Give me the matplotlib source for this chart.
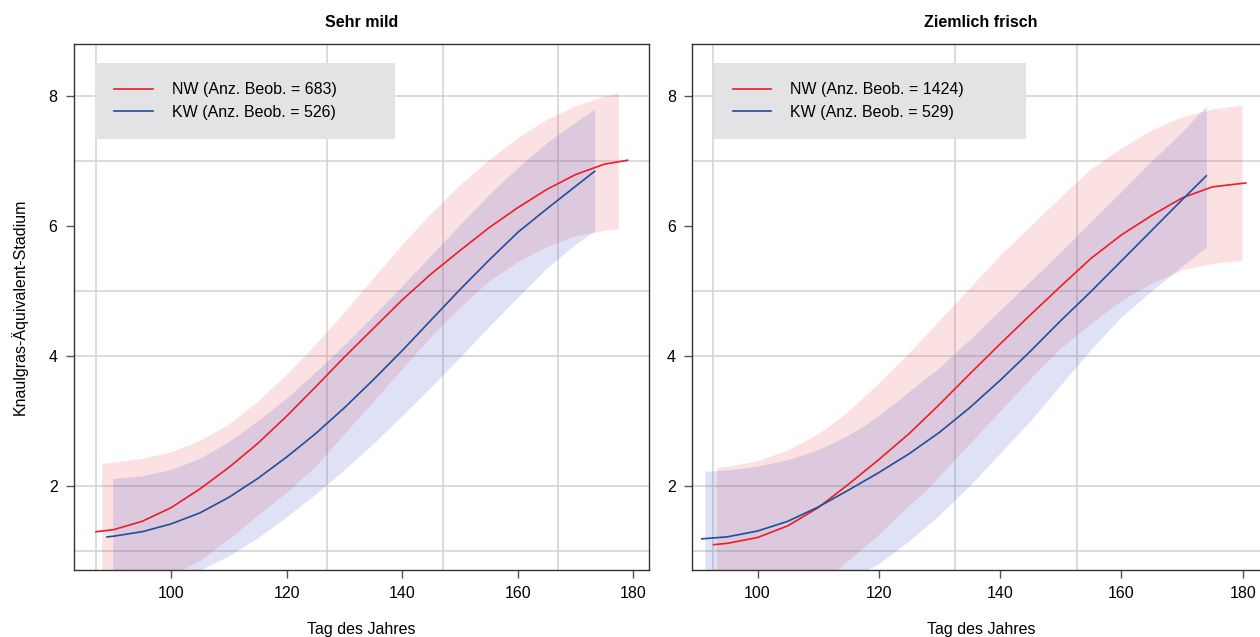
import matplotlib
matplotlib.use("Agg")
import matplotlib.pyplot as plt

plt.rcParams['font.family'] = ['Liberation Sans Narrow', 'Liberation Sans', 'DejaVu Sans']

# ---- Sehr mild ----
mild_nw_day = [87, 90, 95, 100, 105, 110, 115, 120, 125, 130, 135, 140, 145, 150, 155, 160, 165, 170, 175, 179]
mild_nw_val = [1.29, 1.32, 1.45, 1.66, 1.95, 2.28, 2.65, 3.07, 3.52, 3.98, 4.42, 4.86, 5.26, 5.62, 5.97, 6.28, 6.56, 6.79, 6.95, 7.01]
mild_nw_band_day = [88, 90, 95, 100, 105, 110, 115, 120, 125, 130, 135, 140, 145, 150, 155, 160, 165, 170, 175, 177.4]
mild_nw_upper = [2.34, 2.36, 2.42, 2.52, 2.70, 2.95, 3.30, 3.72, 4.18, 4.68, 5.20, 5.72, 6.20, 6.64, 7.02, 7.36, 7.64, 7.85, 8.00, 8.05]
mild_nw_lower = [0.26, 0.32, 0.45, 0.62, 0.85, 1.18, 1.55, 1.90, 2.30, 2.80, 3.30, 3.80, 4.30, 4.75, 5.15, 5.45, 5.68, 5.85, 5.93, 5.96]

mild_kw_day = [88.9, 90, 95, 100, 105, 110, 115, 120, 125, 130, 135, 140, 145, 150, 155, 160, 165, 170, 173.3]
mild_kw_val = [1.21, 1.22, 1.29, 1.41, 1.58, 1.82, 2.11, 2.44, 2.80, 3.20, 3.63, 4.08, 4.55, 5.02, 5.47, 5.90, 6.26, 6.61, 6.84]
mild_kw_band_day = [89.9, 95, 100, 105, 110, 115, 120, 125, 130, 135, 140, 145, 150, 155, 160, 165, 170, 173.3]
mild_kw_upper = [2.11, 2.15, 2.25, 2.42, 2.68, 3.00, 3.35, 3.75, 4.17, 4.62, 5.08, 5.55, 6.02, 6.48, 6.90, 7.28, 7.60, 7.80]
mild_kw_lower = [0.30, 0.40, 0.50, 0.70, 0.92, 1.20, 1.52, 1.87, 2.25, 2.65, 3.08, 3.52, 3.98, 4.45, 4.90, 5.35, 5.72, 5.92]

# ---- Ziemlich frisch ----
frisch_nw_day = [92.75, 95, 100, 105, 110, 115, 120, 125, 130, 135, 140, 145, 150, 155, 160, 165, 170, 175, 180.5]
frisch_nw_val = [1.09, 1.11, 1.20, 1.38, 1.66, 2.02, 2.40, 2.80, 3.25, 3.72, 4.18, 4.63, 5.07, 5.50, 5.86, 6.16, 6.43, 6.60, 6.66]
frisch_nw_band_day = [93.2, 95, 100, 105, 110, 113, 115, 120, 125, 128.3, 130, 135, 140, 145, 150, 155, 160, 165, 170, 175, 179.9]
frisch_nw_upper = [2.28, 2.30, 2.38, 2.55, 2.80, 3.00, 3.15, 3.58, 4.05, 4.38, 4.55, 5.05, 5.55, 6.00, 6.45, 6.88, 7.20, 7.48, 7.68, 7.80, 7.86]
frisch_nw_lower = [-0.30, -0.25, -0.05, 0.20, 0.50, 0.70, 0.85, 1.25, 1.70, 1.97, 2.15, 2.65, 3.15, 3.65, 4.12, 4.50, 4.85, 5.12, 5.32, 5.42, 5.47]

frisch_kw_day = [90.8, 95, 100, 105, 110, 115, 120, 125, 130, 135, 140, 145, 150, 155, 160, 165, 170, 174]
frisch_kw_val = [1.18, 1.21, 1.30, 1.45, 1.67, 1.93, 2.20, 2.49, 2.82, 3.20, 3.62, 4.07, 4.54, 4.99, 5.46, 5.93, 6.40, 6.77]
frisch_kw_band_day = [91.3, 95, 100, 105, 110, 115, 118, 120, 125, 130, 135, 140, 145, 150, 155, 160, 165, 170, 174]
frisch_kw_upper = [2.22, 2.24, 2.30, 2.40, 2.55, 2.78, 2.95, 3.08, 3.45, 3.82, 4.25, 4.70, 5.15, 5.60, 6.07, 6.53, 7.00, 7.45, 7.85]
frisch_kw_lower = [0.00, 0.08, 0.20, 0.32, 0.45, 0.60, 0.70, 0.80, 1.15, 1.55, 2.00, 2.50, 3.00, 3.55, 4.10, 4.60, 5.00, 5.38, 5.67]

titles = ["Sehr mild", "Ziemlich frisch"]
n_nw = [683, 1424]
n_kw = [526, 529]
xlims = [(83.1, 182.7), (89.2, 184.5)]
vgrid = [[87, 127, 147, 167], [92.6, 132.6, 152.6]]
hgrid = [1, 2, 4, 5, 7, 8]

RED = '#ee1c25'
BLUE = '#1f4e9c'

fig = plt.figure(figsize=(12.6, 6.37), dpi=100)
W, H = 1260, 637
boxes = [(73.5, 649), (692, 1270)]
top, bottom = 44, 570

panels = [
    (mild_nw_day, mild_nw_val, mild_nw_band_day, mild_nw_upper, mild_nw_lower,
     mild_kw_day, mild_kw_val, mild_kw_band_day, mild_kw_upper, mild_kw_lower),
    (frisch_nw_day, frisch_nw_val, frisch_nw_band_day, frisch_nw_upper, frisch_nw_lower,
     frisch_kw_day, frisch_kw_val, frisch_kw_band_day, frisch_kw_upper, frisch_kw_lower),
]

for i, p in enumerate(panels):
    x0, x1 = boxes[i]
    ax = fig.add_axes([x0 / W, 1 - bottom / H, (x1 - x0) / W, (bottom - top) / H])
    nwd, nwv, nwbd, nwu, nwl, kwd, kwv, kwbd, kwu, kwl = p

    for g in hgrid:
        ax.axhline(g, color='#d2d2d2', lw=1.1, zorder=0)
    for g in vgrid[i]:
        ax.axvline(g, color='#d2d2d2', lw=1.1, zorder=0)

    ax.fill_between(nwbd, nwl, nwu, color=RED, alpha=0.13, lw=0, zorder=1)
    ax.fill_between(kwbd, kwl, kwu, color='#3c50c8', alpha=0.16, lw=0, zorder=1)
    ax.plot(nwd, nwv, color=RED, lw=1.2, zorder=3,
            label="NW (Anz. Beob. = %d)" % n_nw[i])
    ax.plot(kwd, kwv, color=BLUE, lw=1.2, zorder=3,
            label="KW (Anz. Beob. = %d)" % n_kw[i])

    ax.set_xlim(*xlims[i])
    ax.set_ylim(0.70, 8.80)
    ax.set_xticks([100, 120, 140, 160, 180])
    ax.set_yticks([2, 4, 6, 8])
    ax.tick_params(direction='out', length=5.5, width=1, color='#555555',
                   labelsize=11.5, pad=6)
    for s in ax.spines.values():
        s.set_color('#333333')
        s.set_linewidth(1)

    ax.set_title(titles[i], fontsize=11.5, fontweight='bold', pad=12)
    ax.set_xlabel("Tag des Jahres", fontsize=11.5, labelpad=15)
    if i == 0:
        ax.set_ylabel("Knaulgras-Äquivalent-Stadium", fontsize=11.5, labelpad=15)

    axw = x1 - x0
    leg = ax.legend(loc='upper left',
                    bbox_to_anchor=(21.5 / axw, 0.964, (300 if i == 0 else 312) / axw, 0.0),
                    mode='expand', fontsize=11.5, frameon=True, fancybox=False,
                    borderpad=1.2, labelspacing=0.5, handlelength=2.4,
                    handletextpad=1.2, borderaxespad=0)
    fr = leg.get_frame()
    fr.set_facecolor('#e3e3e5')
    fr.set_edgecolor('none')
    fr.set_alpha(1)
    leg.set_zorder(5)

fig.savefig("out.png", dpi=100)
